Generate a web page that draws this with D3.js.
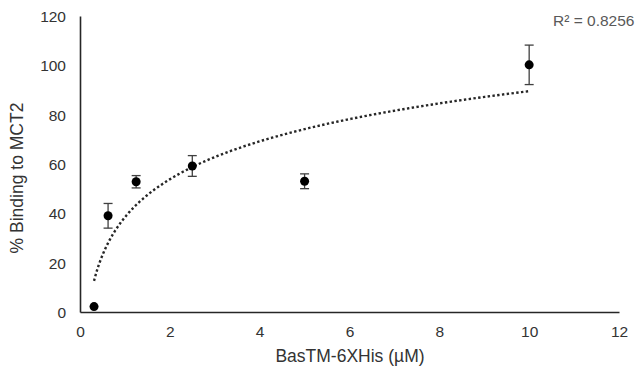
<!DOCTYPE html>
<html><head><meta charset="utf-8">
<script src="https://cdn.jsdelivr.net/npm/d3@7"></script>
<style>
html,body{margin:0;padding:0;background:#fff;}
svg{display:block;font-family:"Liberation Sans",Arial,sans-serif;}
</style></head>
<body>
<svg id="chart" width="640" height="372"></svg>
<script>
// Data
const concentrations = [0.3125, 0.625, 1.25, 2.5, 5, 10];
const binding = [2.2, 39, 52.8, 59.2, 53, 100.2];
const errors = [0, 5, 2.5, 4.2, 3, 8];
const xTicks = [0, 2, 4, 6, 8, 10, 12];
const yTicks = [0, 20, 40, 60, 80, 100, 120];
const r2Label = "R² = 0.8256";
const xTitle = "BasTM-6XHis (\u00B5M)";
const yTitle = "% Binding to MCT2";

const svg = d3.select("#chart");
const x = d3.scaleLinear().domain([0, 12]).range([80, 619]);
const y = d3.scaleLinear().domain([0, 120]).range([312, 16]);

// Axes
const xAxis = svg.append("g").attr("transform", `translate(0,${y(0)})`)
  .call(d3.axisBottom(x).tickValues(xTicks).tickSize(0).tickPadding(14).tickFormat(d3.format("d")));
const yAxis = svg.append("g").attr("transform", `translate(${x(0)},0)`)
  .call(d3.axisLeft(y).tickValues(yTicks).tickSize(0).tickPadding(14).tickFormat(d3.format("d")));
[xAxis, yAxis].forEach(g => {
  g.select(".domain").attr("stroke", "#262626").attr("stroke-width", 1.6);
  g.selectAll("text").attr("fill", "#333").style("font-size", "15.5px").style("font-family", "'Liberation Sans',Arial,sans-serif");
});
yAxis.selectAll("text").attr("dy", "0.35em");

// Trendline: logarithmic least-squares fit y = a ln(x) + b
const lx = concentrations.map(Math.log);
const mx = d3.mean(lx), my = d3.mean(binding);
const sxy = d3.sum(lx, (v, i) => (v - mx) * (binding[i] - my));
const sxx = d3.sum(lx, v => (v - mx) * (v - mx));
const a = sxy / sxx, b = my - a * mx;
const xmin = d3.min(concentrations), xmax = d3.max(concentrations);
const samples = d3.range(0, 201).map(i => Math.exp(Math.log(xmin) + (Math.log(xmax) - Math.log(xmin)) * i / 200));
svg.append("path")
  .attr("d", d3.line().x(d => x(d)).y(d => y(a * Math.log(d) + b))(samples))
  .attr("fill", "none").attr("stroke", "#262626").attr("stroke-width", 2.4)
  .attr("stroke-dasharray", "2.4 2.4");

// Error bars
const pts = concentrations.map((c, i) => ({c, v: binding[i], e: errors[i]}));
const eb = svg.append("g").selectAll("g").data(pts.filter(d => d.e > 0)).join("g");
eb.append("line").attr("x1", d => x(d.c)).attr("x2", d => x(d.c))
  .attr("y1", d => y(d.v + d.e)).attr("y2", d => y(d.v - d.e));
eb.append("line").attr("x1", d => x(d.c) - 4.5).attr("x2", d => x(d.c) + 4.5)
  .attr("y1", d => y(d.v + d.e)).attr("y2", d => y(d.v + d.e));
eb.append("line").attr("x1", d => x(d.c) - 4.5).attr("x2", d => x(d.c) + 4.5)
  .attr("y1", d => y(d.v - d.e)).attr("y2", d => y(d.v - d.e));
eb.selectAll("line").attr("stroke", "#404040").attr("stroke-width", 1.3);

// Markers
svg.append("g").selectAll("circle").data(pts).join("circle")
  .attr("cx", d => x(d.c)).attr("cy", d => y(d.v)).attr("r", 4.5).attr("fill", "#000");

// R² label
svg.append("text").attr("x", 553).attr("y", 26).text(r2Label)
  .attr("fill", "#595959").style("font-size", "15.5px");

// Axis titles
svg.append("text").attr("x", 350).attr("y", 362).attr("text-anchor", "middle")
  .text(xTitle).attr("fill", "#333").style("font-size", "17.5px");
svg.append("text").attr("transform", "translate(23,178) rotate(-90)").attr("text-anchor", "middle")
  .text(yTitle).attr("fill", "#333").style("font-size", "17.5px");
</script>
</body></html>
